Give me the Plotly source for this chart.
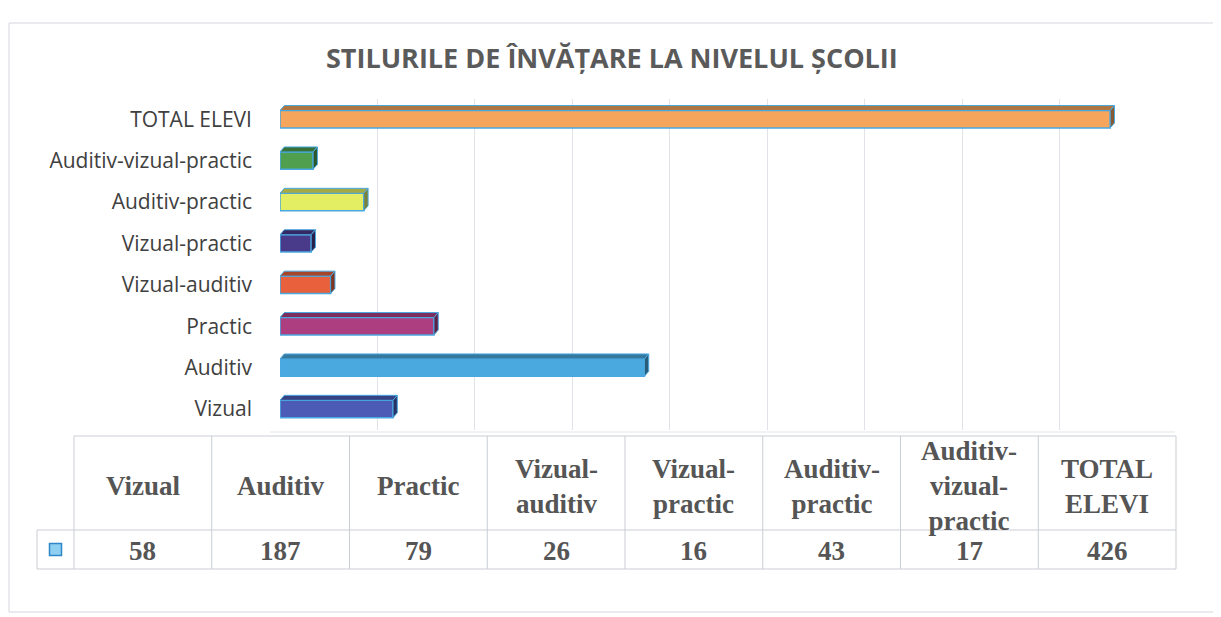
import plotly.graph_objects as go

# ---------------- data ----------------
categories = ["Vizual", "Auditiv", "Practic", "Vizual-auditiv", "Vizual-practic",
              "Auditiv-practic", "Auditiv-vizual-practic", "TOTAL ELEVI"]
values = [58, 187, 79, 26, 16, 43, 17, 426]
table_headers = ["Vizual", "Auditiv", "Practic", "Vizual-<br>auditiv", "Vizual-<br>practic",
                 "Auditiv-<br>practic", "Auditiv-<br>vizual-<br>practic", "TOTAL<br>ELEVI"]
bar_colors = ["#4c5cb6", "#4aa9de", "#ad3f80", "#e8603c", "#4a3a8a",
              "#e3ee62", "#4f9f4f", "#f5a55c"]
title_text = "STILURILE DE ÎNVĂȚARE LA NIVELUL ȘCOLII"

# page body has an 8px margin: work in page pixels and convert
OFF = 8
W, H = 1221 - OFF, 617 - OFF
def px(x):
    return (x - OFF) / W
def py(y):
    return 1 - (y - OFF) / H

def shade(hexcol, f):
    h = hexcol.lstrip("#")
    r, g, b = (int(h[i:i + 2], 16) for i in (0, 2, 4))
    return "rgb(%d,%d,%d)" % (r * f, g * f, b * f)

fig = go.Figure()

idx = list(range(len(categories)))
bw = 0.42      # bar thickness (category units)
dx = 2.2       # 3D depth in value units
dy = 0.12      # 3D depth in category units
outline = "#4aa8e0"

# 3D top and side faces computed from the data values
for i, v, c in zip(idx, values, bar_colors):
    yt = i + bw / 2
    yb = i - bw / 2
    fig.add_trace(go.Scatter(
        x=[0, v, v + dx, dx, 0], y=[yt, yt, yt + dy, yt + dy, yt],
        fill="toself", fillcolor=shade(c, 0.72), mode="lines",
        line=dict(color=outline, width=1), hoverinfo="skip", showlegend=False))
    fig.add_trace(go.Scatter(
        x=[v, v + dx, v + dx, v, v], y=[yb, yb + dy, yt + dy, yt, yb],
        fill="toself", fillcolor=shade(c, 0.55), mode="lines",
        line=dict(color=outline, width=1), hoverinfo="skip", showlegend=False))

fig.add_trace(go.Bar(
    x=values, y=idx, orientation="h", width=bw,
    marker=dict(color=bar_colors, line=dict(color=outline, width=1.5)),
    showlegend=False))

# ---------------- axes ----------------
x0, x1 = 280, 1157
ytop, ybot = 98.5, 429.7
fig.update_xaxes(domain=[px(x0), px(x1)], range=[0, 450], dtick=50,
                 showgrid=True, gridcolor="#e0e3e8", gridwidth=1,
                 showticklabels=False, zeroline=False, showline=False)
fig.update_yaxes(domain=[py(ybot), py(ytop)], range=[-0.5, 7.5],
                 tickmode="array", tickvals=idx, ticktext=categories,
                 showgrid=False, zeroline=False, showline=False,
                 ticklabelstandoff=27,
                 tickfont=dict(family="Open Sans", size=21, color="#404040"))

shapes = []
annotations = []

# outer frame
shapes.append(dict(type="rect", xref="paper", yref="paper",
                   x0=px(9), x1=px(1217), y0=py(612), y1=py(23),
                   line=dict(color="#d3d7dd", width=1)))
# floor line
shapes.append(dict(type="line", xref="paper", yref="paper",
                   x0=px(270), x1=px(1175), y0=py(432), y1=py(432),
                   line=dict(color="#e2e5ea", width=1)))

# title
annotations.append(dict(text="<b>" + title_text + "</b>", xref="paper", yref="paper",
                        x=px(612), y=py(57), showarrow=False,
                        xanchor="center", yanchor="middle",
                        font=dict(family="Open Sans", size=27, color="#5a5a5a")))

# ---------------- data table ----------------
t_left, t_key, t_right = 37, 74, 1176
t_top, t_mid, t_bot = 436, 530, 569
ncol = len(categories)
cw = (t_right - t_key) / ncol
gridc = "#c9cdd4"

def hline(y, xa, xb):
    shapes.append(dict(type="line", xref="paper", yref="paper",
                       x0=px(xa), x1=px(xb), y0=py(y), y1=py(y),
                       line=dict(color=gridc, width=1)))
def vline(x, ya, yb):
    shapes.append(dict(type="line", xref="paper", yref="paper",
                       x0=px(x), x1=px(x), y0=py(ya), y1=py(yb),
                       line=dict(color=gridc, width=1)))

hline(t_top, t_key, t_right)
hline(t_mid, t_left, t_right)
hline(t_bot, t_left, t_right)
vline(t_left, t_mid, t_bot)
for k in range(ncol + 1):
    vline(t_key + k * cw, t_top, t_bot)

tfont = dict(family="Liberation Serif", size=27, color="#555555")
for k, (h, v) in enumerate(zip(table_headers, values)):
    cx = t_key + (k + 0.5) * cw
    annotations.append(dict(text="<b>" + h + "</b>", xref="paper", yref="paper",
                            x=px(cx), y=py((t_top + t_mid) / 2 + 3), showarrow=False,
                            xanchor="center", yanchor="middle", align="center",
                            font=tfont))
    annotations.append(dict(text="<b>" + str(v) + "</b>", xref="paper", yref="paper",
                            x=px(cx), y=py((t_mid + t_bot) / 2 + 1), showarrow=False,
                            xanchor="center", yanchor="middle", font=tfont))

# legend key
kx, ky, ks = (t_left + t_key) / 2, (t_mid + t_bot) / 2, 6
shapes.append(dict(type="rect", xref="paper", yref="paper",
                   x0=px(kx - ks), x1=px(kx + ks), y0=py(ky + ks), y1=py(ky - ks),
                   fillcolor="#8fd0f2", line=dict(color="#2f86c8", width=1.5)))

fig.update_layout(width=W, height=H, margin=dict(l=0, r=0, t=0, b=0),
                  paper_bgcolor="white", plot_bgcolor="white",
                  shapes=shapes, annotations=annotations, bargap=0.5)

fig.write_html("out.html")
